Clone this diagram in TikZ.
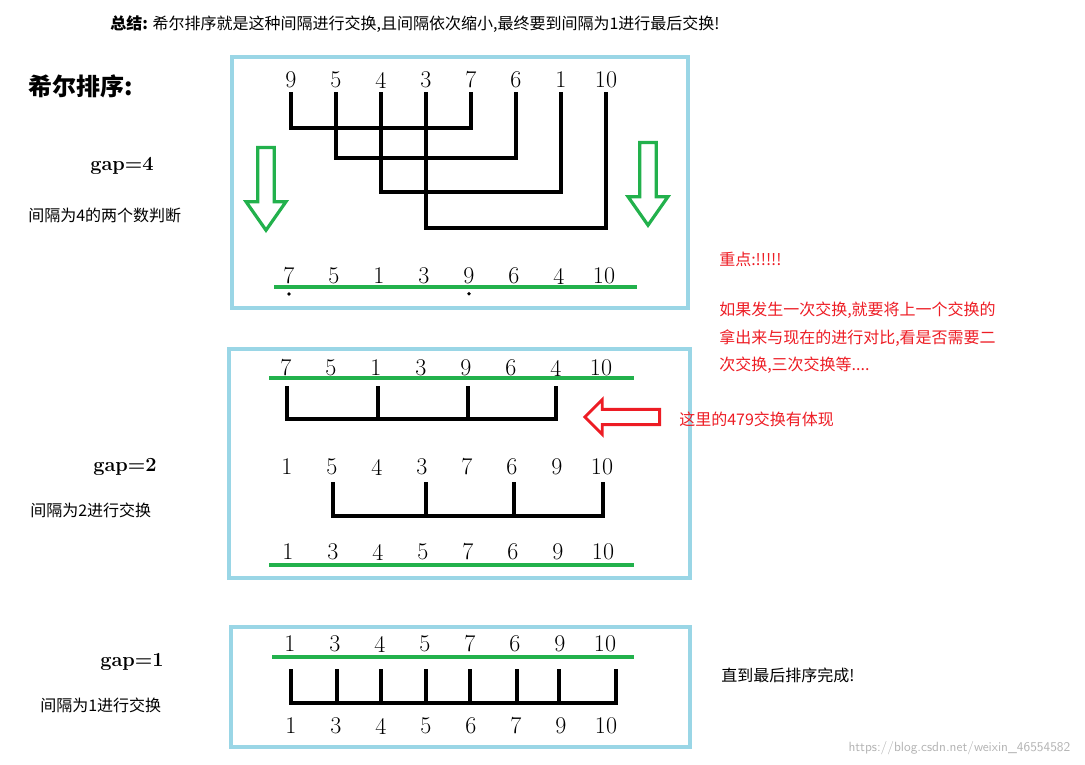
\documentclass[tikz,border=0pt]{standalone}
\usepackage{fontspec}
\newfontfamily\cjk{Noto Sans CJK SC}
\usetikzlibrary{arrows.meta, positioning, shapes.arrows}
\definecolor{boxblue}{HTML}{9AD6E6}
\definecolor{sortgreen}{HTML}{22B14C}
\definecolor{notered}{HTML}{ED1C24}
\tikzset{
    numnode/.style={font=\fontsize{18}{18}\selectfont, inner sep=0pt, anchor=center},
    frame/.style={draw=boxblue, line width=3.2pt},
    bar/.style={line width=3pt, black, line cap=rect},
    greenline/.style={sortgreen, line width=3pt},
    cn/.style={font=\cjk\fontsize{12}{12}\selectfont, anchor=west, inner sep=0pt},
    redtxt/.style={cn, text=notered},
    downarrow/.style={single arrow, draw=sortgreen, line width=2.4pt, shape border rotate=270,
        minimum width=30pt, single arrow head extend=6pt, single arrow tip angle=70, minimum height=62pt, inner sep=3pt}
}
\begin{document}
\begin{tikzpicture}[x=0.75pt, y=-0.75pt]
    \useasboundingbox (0,0) rectangle (1085,764);

    % Title and headings
    \node[cn] (title) at (110,24) {\textbf{总结:} 希尔排序就是这种间隔进行交换,且间隔依次缩小,最终要到间隔为1进行最后交换!};
    \node[cn, font=\cjk\fontsize{18}{18}\selectfont\bfseries] (head) at (28,86) {希尔排序:};
    \node[numnode, font=\bfseries\fontsize{15}{15}\selectfont] (gapa) at (122,166) {gap=4};
    \node[cn] (gapatxt) at (28,215) {间隔为4的两个数判断};
    \node[numnode, font=\bfseries\fontsize{15}{15}\selectfont] (gapb) at (125,467) {gap=2};
    \node[cn] (gapbtxt) at (30,510) {间隔为2进行交换};
    \node[numnode, font=\bfseries\fontsize{15}{15}\selectfont] (gapc) at (132,662) {gap=1};
    \node[cn] (gapctxt) at (40,705) {间隔为1进行交换};

    % Frames
    \draw[frame] (232,57) rectangle (688,308);
    \draw[frame] (229,349) rectangle (690,578);
    \draw[frame] (231,627) rectangle (690,747);

    % Box 1
    \foreach \v [count=\i] in {9,5,4,3,7,6,1,10}
        \node[numnode] (a\i) at (246+45*\i,80) {\v};
    \foreach \v [count=\i] in {7,5,1,3,9,6,4,10}
        \node[numnode] (b\i) at (244+45*\i,276) {\v};
    \foreach \i/\j/\y in {1/5/128, 2/6/158, 3/7/192, 4/8/228}
        \draw[bar] ([yshift=-4pt]a\i.south) |- (a\i |- 0,\y) -| ([yshift=-4pt]a\j.south);
    \draw[greenline] (274,287) -- (637,287);
    \fill (b1.south) ++(0,-7pt) circle (1.4pt);
    \fill (b5.south) ++(0,-7pt) circle (1.4pt);
    \node[downarrow] (arrl) at (266,183) {};
    \node[downarrow] (arrr) at (648,178) {};

    % Box 2
    \foreach \v [count=\i] in {7,5,1,3,9,6,4,10}
        \node[numnode] (c\i) at (241+45*\i,368) {\v};
    \draw[greenline] (269,378) -- (634,378);
    \draw[bar] (287,388) |- (556,419) -- (556,388);
    \draw[bar] (378,388) -- (378,419);
    \draw[bar] (468,388) -- (468,419);
    \foreach \v [count=\i] in {1,5,4,3,7,6,9,10}
        \node[numnode] (d\i) at (242+45*\i,467) {\v};
    \draw[bar] (333,484) |- (603,516) -- (603,484);
    \draw[bar] (426,484) -- (426,516);
    \draw[bar] (514,484) -- (514,516);
    \foreach \v [count=\i] in {1,3,4,5,7,6,9,10}
        \node[numnode] (e\i) at (243+45*\i,552) {\v};
    \draw[greenline] (269,565) -- (634,565);

    % Box 3
    \foreach \v [count=\i] in {1,3,4,5,7,6,9,10}
        \node[numnode] (f\i) at (245+45*\i,644) {\v};
    \draw[greenline] (272,657) -- (634,657);
    \draw[bar] (291,703) -- (616,703);
    \foreach \x in {291,337,381,426,470,517,559,616}
        \draw[bar] (\x,671) -- (\x,703);
    \foreach \v [count=\i] in {1,3,4,5,6,7,9,10}
        \node[numnode] (g\i) at (246+45*\i,726) {\v};

    % Notes
    \node[redtxt] (note1) at (719,259) {重点:!!!!!};
    \node[redtxt, anchor=north west, align=left, text width=360pt] (note2) at (719,302) {如果发生一次交换,就要将上一个交换的\\[7pt]拿出来与现在的进行对比,看是否需要二\\[7pt]次交换,三次交换等....};
    \node[single arrow, draw=notered, line width=2.2pt, shape border rotate=180, minimum width=26pt,
        single arrow head extend=4pt, minimum height=56pt, inner sep=2pt] (redarr) at (626,417) {};
    \node[redtxt] (note3) at (679,419) {这里的479交换有体现};
    \node[cn] (done) at (721,675) {直到最后排序完成!};
    \node[font=\sffamily\fontsize{10}{10}\selectfont, text=gray!60, anchor=east] (mark) at (1075,748) {https://blog.csdn.net/weixin\_46554582};
\end{tikzpicture}
\end{document}
